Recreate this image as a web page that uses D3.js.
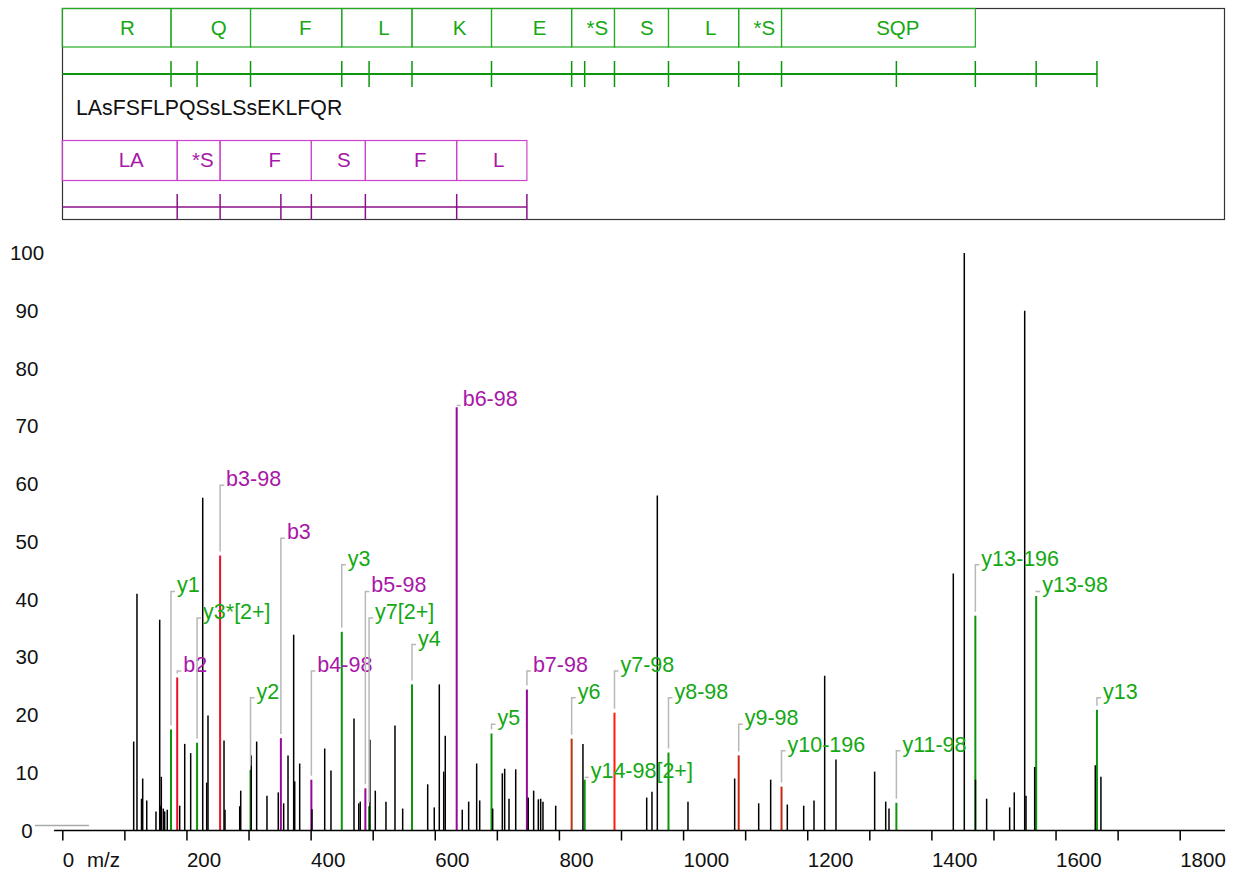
<!DOCTYPE html>
<html>
<head>
<meta charset="utf-8">
<script src="https://cdn.jsdelivr.net/npm/d3@7"></script>
<style>
  body { margin: 0; background: #fff; }
  text { font-family: "Liberation Sans", Arial, sans-serif; }
</style>
</head>
<body>
<div id="chart"></div>
<script>
var peptide = "LAsFSFLPQSsLSsEKLFQR";

// unassigned peaks (m/z, relative intensity %)
var peakMz = [115.0, 120.3, 127.6, 129.5, 136.0, 150.9, 156.9, 157.9, 159.5, 162.7, 164.9, 169.1, 189.1, 197.2, 206.8,
  226.2, 232.6, 234.7, 260.5, 262.1, 285.8, 287.4, 304.4, 313.1, 329.7, 347.9, 356.6, 363.6, 372.7, 374.4, 382.4,
  402.2, 422.7, 432.8, 469.9, 477.5, 480.0, 495.6, 504.2, 521.4, 535.9, 548.3, 588.6, 599.2, 607.3, 614.4, 616.9,
  644.3, 654.6, 667.5, 672.4, 693.3, 708.8, 712.6, 719.6, 730.4, 750.6, 759.3, 766.8, 770.6, 774.3, 794.8, 838.7,
  941.4, 949.9, 958.5, 1007.9, 1083.1, 1121.8, 1141.1, 1167.9, 1194.3, 1210.9, 1228.1, 1246.3, 1308.6, 1326.4, 1331.7,
  1435.3, 1453.0, 1471.0, 1489.0, 1526.1, 1533.5, 1550.3, 1552.4, 1566.4, 1664.0, 1673.1];
var peakInt = [15.4, 41.0, 5.5, 9.0, 5.2, 3.3, 36.5, 4.3, 9.3, 3.8, 3.3, 3.6, 4.3, 15.0, 13.4,
  57.6, 8.3, 19.9, 15.6, 3.6, 4.2, 6.9, 13.0, 15.4, 6.0, 6.6, 4.7, 13.0, 33.9, 8.5, 11.6,
  3.7, 14.2, 10.4, 19.4, 4.7, 5.0, 15.7, 6.9, 5.0, 18.2, 3.8, 8.0, 4.0, 25.3, 10.2, 16.4,
  3.6, 5.0, 11.6, 5.2, 3.8, 9.9, 10.7, 5.5, 10.6, 5.7, 6.9, 5.4, 5.5, 5.0, 4.3, 15.0,
  5.7, 6.7, 58.0, 5.0, 9.0, 4.7, 8.8, 4.5, 4.3, 5.2, 26.8, 12.3, 10.2, 5.0, 3.8,
  44.5, 100, 8.8, 5.5, 4.0, 6.6, 90.0, 6.0, 11.0, 11.3, 9.3];

// assigned fragment ions
var ionNames = ["y1", "b2", "y3*[2+]", "b3-98", "y2", "b3", "b4-98", "y3", "b5-98", "y7[2+]", "y4", "b6-98",
  "y5", "b7-98", "y6", "y14-98[2+]", "y7-98", "y8-98", "y9-98", "y10-196", "y11-98", "y13-196", "y13-98", "y13"];
var ionMz = [175.1, 185.1, 217.1, 254.2, 303.2, 352.1, 401.2, 450.2, 488.2, 494.2, 563.3, 635.3,
  691.4, 748.4, 820.5, 841.5, 889.5, 976.5, 1089.6, 1158.6, 1343.6, 1470.8, 1568.8, 1666.7];
var ionInt = [17.5, 26.5, 15.2, 47.6, 10.5, 16.0, 8.8, 34.4, 7.3, 4.2, 25.3, 73.3,
  16.8, 24.4, 15.9, 8.8, 20.4, 13.5, 13.0, 7.6, 4.8, 37.2, 40.6, 20.9];
// ions whose peak is flagged (drawn red)
var flaggedIons = ["b2", "b3-98", "y6", "y7-98", "y9-98", "y10-196"];

// sequence ladders
var yLadderLetters = ["R", "Q", "F", "L", "K", "E", "*S", "S", "L", "*S", "SQP"];
var yLadderIons = ["y1", "y2", "y3", "y4", "y5", "y6", "y7-98", "y8-98", "y9-98", "y10-196", "y13-196"];
var bLadderLetters = ["LA", "*S", "F", "S", "F", "L"];
var bLadderIons = ["b2", "b3-98", "b4-98", "b5-98", "b6-98", "b7-98"];

var xTicks = d3.range(0, 1801, 100);
var yTicks = d3.range(0, 101, 10);

// ---- layout ----
var labelSlot = {"y1": 9, "b2": 6, "y3*[2+]": 8, "b3-98": 13, "y2": 5, "b3": 11, "b4-98": 6, "y3": 10,
  "b5-98": 9, "y7[2+]": 8, "y4": 7, "b6-98": 16, "y5": 4, "b7-98": 6, "y6": 5, "y14-98[2+]": 2,
  "y7-98": 6, "y8-98": 5, "y9-98": 4, "y10-196": 3, "y11-98": 3, "y13-196": 10, "y13-98": 9, "y13": 5};
var slotStep = 4.6;

var green = "#14a814", greenLine = "#0b960b", purple = "#a817a8", purpleLine = "#960896";
var flagColor = {"b2": "#e8102a", "b3-98": "#e8102a", "y6": "#b8360e", "y7-98": "#ff1a0a",
  "y9-98": "#c8260e", "y10-196": "#c8260e"};

var svg = d3.select("#chart").append("svg")
  .attr("width", 1238).attr("height", 878);

var x = d3.scaleLinear().domain([0, 1800]).range([62.3, 1179.7]);
var y = d3.scaleLinear().domain([0, 100]).range([830.5, 253]);

var ions = ionNames.map(function(n, i) {
  return {name: n, mz: ionMz[i], int: ionInt[i], series: n.charAt(0)};
});
var ionByName = {};
ions.forEach(function(d) { ionByName[d.name] = d; });

// ---- top ladder box ----
svg.append("rect")
  .attr("x", 62.5).attr("y", 8.5).attr("width", 1162).attr("height", 211)
  .attr("fill", "none").attr("stroke", "#333").attr("stroke-width", 1.2);

function ladder(letters, ionList, series, boxTop, boxBot, lineY, tickTop, tickBot, boxColor, textColor, lineColor, lineW) {
  var g = svg.append("g");
  var bounds = [0].concat(ionList.map(function(n) { return ionByName[n].mz; }));
  letters.forEach(function(l, i) {
    var x0 = x(bounds[i]), x1 = x(bounds[i + 1]);
    g.append("rect")
      .attr("x", x0).attr("y", boxTop).attr("width", x1 - x0).attr("height", boxBot - boxTop)
      .attr("fill", "none").attr("stroke", boxColor).attr("stroke-width", 1.2);
    g.append("text")
      .attr("x", x0 + 0.6 * (x1 - x0)).attr("y", boxTop + 26)
      .attr("text-anchor", "middle").attr("font-size", 20.5).attr("fill", textColor)
      .text(l);
  });
  var sIons = ions.filter(function(d) { return d.series === series; });
  var last = d3.max(sIons, function(d) { return d.mz; });
  g.append("line")
    .attr("x1", x(0)).attr("x2", x(last)).attr("y1", lineY).attr("y2", lineY)
    .attr("stroke", lineColor).attr("stroke-width", lineW);
  g.selectAll(".tk").data(sIons).enter().append("line")
    .attr("x1", function(d) { return x(d.mz); }).attr("x2", function(d) { return x(d.mz); })
    .attr("y1", tickTop).attr("y2", tickBot)
    .attr("stroke", lineColor).attr("stroke-width", 1.5);
}

ladder(yLadderLetters, yLadderIons, "y", 8.5, 47, 74, 61, 87, "#22aa22", green, greenLine, 2);
ladder(bLadderLetters, bLadderIons, "b", 140.5, 180.5, 207, 194, 220, "#cc44cc", purple, "#8a108a", 1.5);

svg.append("text")
  .attr("x", 76).attr("y", 114.5).attr("font-size", 21.3).attr("fill", "#111")
  .text(peptide);

// ---- spectrum ----
svg.append("line")
  .attr("x1", 35).attr("x2", 89).attr("y1", 825.5).attr("y2", 825.5)
  .attr("stroke", "#aaa").attr("stroke-width", 1.5);

function peakColor(d) {
  if (flagColor[d.name]) return flagColor[d.name];
  return d.series === "y" ? greenLine : purpleLine;
}

svg.append("g").selectAll("line").data(ions).enter().append("line")
  .attr("x1", function(d) { return x(d.mz); }).attr("x2", function(d) { return x(d.mz); })
  .attr("y1", y(0)).attr("y2", function(d) { return y(d.int); })
  .attr("stroke", peakColor).attr("stroke-width", 2);

var peaks = peakMz.map(function(m, i) { return {mz: m, int: peakInt[i]}; });
svg.append("g").selectAll("line").data(peaks).enter().append("line")
  .attr("x1", function(d) { return x(d.mz); }).attr("x2", function(d) { return x(d.mz); })
  .attr("y1", y(0)).attr("y2", function(d) { return y(d.int); })
  .attr("stroke", "#000").attr("stroke-width", 1.5);

// labels with connectors
var lab = svg.append("g");
ions.forEach(function(d) {
  var px = x(d.mz);
  var ly = y(labelSlot[d.name] * slotStep);
  var top = y(d.int) - 4;
  lab.append("path")
    .attr("d", "M" + px + "," + Math.max(top, ly) + "V" + ly + "H" + (px + 4))
    .attr("fill", "none").attr("stroke", "#b8b8b8").attr("stroke-width", 1.5);
  lab.append("text")
    .attr("x", px + 6).attr("y", ly + 1)
    .attr("font-size", 21.5)
    .attr("fill", d.series === "y" ? green : purple)
    .text(d.name);
});

// ---- axes ----
svg.append("line")
  .attr("x1", 54).attr("x2", 1225).attr("y1", y(0)).attr("y2", y(0))
  .attr("stroke", "#000").attr("stroke-width", 1.5);

var xAxis = svg.append("g")
  .attr("transform", "translate(0," + y(0) + ")")
  .call(d3.axisBottom(x).tickValues(xTicks).tickSize(10)
    .tickFormat(function(d) { return d % 200 === 0 ? d : ""; }));
xAxis.select(".domain").remove();
xAxis.selectAll("line").attr("stroke", "#000").attr("stroke-width", 1.5);
xAxis.selectAll("text")
  .attr("text-anchor", "start").attr("y", 22).attr("font-size", 20.5)
  .attr("font-family", "Liberation Sans, Arial, sans-serif").attr("fill", "#111");

svg.append("text")
  .attr("x", 87).attr("y", 867).attr("font-size", 20.5).attr("fill", "#111")
  .text("m/z");

svg.append("g").selectAll("text").data(yTicks).enter().append("text")
  .attr("x", 27).attr("y", function(d) { return y(d) + 7; })
  .attr("text-anchor", "middle").attr("font-size", 20.5).attr("fill", "#111")
  .text(function(d) { return d; });
</script>
</body>
</html>
